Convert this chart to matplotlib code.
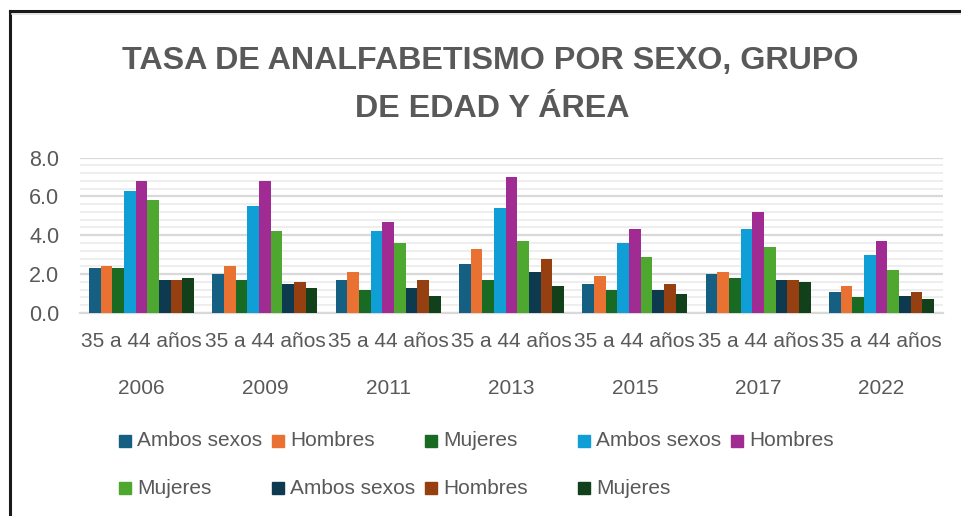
import matplotlib
matplotlib.use("Agg")
import matplotlib.pyplot as plt
import numpy as np
from matplotlib.lines import Line2D
from matplotlib.patches import Rectangle
from matplotlib.ticker import MultipleLocator, FormatStrFormatter

years = ['2006', '2009', '2011', '2013', '2015', '2017', '2022']
age_group = '35 a 44 años'
series_labels = ['Ambos sexos', 'Hombres', 'Mujeres',
                 'Ambos sexos', 'Hombres', 'Mujeres',
                 'Ambos sexos', 'Hombres', 'Mujeres']
ambos_1 = [2.3, 2.0, 1.7, 2.5, 1.5, 2.0, 1.1]
hombres_1 = [2.4, 2.4, 2.1, 3.3, 1.9, 2.1, 1.4]
mujeres_1 = [2.3, 1.7, 1.2, 1.7, 1.2, 1.8, 0.8]
ambos_2 = [6.3, 5.5, 4.2, 5.4, 3.6, 4.3, 3.0]
hombres_2 = [6.8, 6.8, 4.7, 7.0, 4.3, 5.2, 3.7]
mujeres_2 = [5.8, 4.2, 3.6, 3.7, 2.9, 3.4, 2.2]
ambos_3 = [1.7, 1.5, 1.3, 2.1, 1.2, 1.7, 0.9]
hombres_3 = [1.7, 1.6, 1.7, 2.8, 1.5, 1.7, 1.1]
mujeres_3 = [1.8, 1.3, 0.9, 1.4, 1.0, 1.6, 0.7]
series_values = [ambos_1, hombres_1, mujeres_1, ambos_2, hombres_2, mujeres_2,
                 ambos_3, hombres_3, mujeres_3]
colors = ['#156082', '#E97132', '#196B24', '#0F9ED5', '#A02B93', '#4EA72E',
          '#0E3A50', '#963F10', '#11401A']

plt.rcParams['font.family'] = ['Liberation Sans', 'DejaVu Sans']
gray = '#595959'

W, H = 961, 516
fig = plt.figure(figsize=(W / 100, H / 100), dpi=100)
ax_left, ax_right, ax_bottom, ax_top = 80, 943, 313, 157.5
ax = fig.add_axes([ax_left / W, 1 - ax_bottom / H, (ax_right - ax_left) / W, (ax_bottom - ax_top) / H])

x = np.arange(len(years))
n = len(series_values)
bw = 0.0946
for i, (vals, c, lab) in enumerate(zip(series_values, colors, series_labels)):
    ax.bar(x + (i - (n - 1) / 2) * bw, vals, width=bw, color=c, label=lab, zorder=3)

ax.set_xlim(-0.5, len(years) - 0.5)
ax.set_ylim(0, 8)
ax.yaxis.set_major_locator(MultipleLocator(2))
ax.yaxis.set_minor_locator(MultipleLocator(0.4))
ax.yaxis.set_major_formatter(FormatStrFormatter('%.1f'))
ax.grid(axis='y', which='minor', color='#eeeeee', linewidth=1.4, zorder=0)
ax.grid(axis='y', which='major', color='#d9d9d9', linewidth=1.6, zorder=1)
for s in ['top', 'right', 'left']:
    ax.spines[s].set_visible(False)
ax.spines['bottom'].set_color('#d9d9d9')
ax.spines['bottom'].set_linewidth(1.6)
ax.tick_params(axis='y', which='both', length=0, labelsize=15.5, labelcolor=gray, pad=15)
ax.tick_params(axis='x', length=0, labelsize=15, labelcolor=gray, pad=14)
ax.set_xticks(x)
ax.set_xticklabels([age_group] * len(years))
for xi, yr in zip(x, years):
    ax.annotate(yr, xy=(xi, 0), xycoords=('data', 'axes fraction'),
                xytext=(0, -54), textcoords='offset points',
                ha='center', va='center', fontsize=15, color=gray)

# Title
fig.text(490 / W, 1 - 69 / H, 'TASA DE ANALFABETISMO POR SEXO, GRUPO',
         ha='center', va='baseline', fontsize=23.2, fontweight='bold', color=gray)
fig.text(492 / W, 1 - 117 / H, 'DE EDAD Y ÁREA',
         ha='center', va='baseline', fontsize=23.2, fontweight='bold', color=gray)

# Legend (manual grid layout like Excel)
col_x = [119, 272, 425, 578, 731]
row_y = [441, 488]
sq = 12
for i, (lab, c) in enumerate(zip(series_labels, colors)):
    r, cidx = divmod(i, 5)
    px, py = col_x[cidx], row_y[r]
    fig.add_artist(Rectangle((px / W, 1 - (py + sq / 2) / H), sq / W, sq / H,
                             transform=fig.transFigure, color=c))
    fig.text((px + 18) / W, 1 - py / H, lab, ha='left', va='center',
             fontsize=15, color=gray)

# Frame border (partially visible)
fig.add_artist(Line2D([10 / W, 10 / W], [0, 1 - 11 / H], transform=fig.transFigure,
                      color='#1a1a1a', linewidth=2.2))
fig.add_artist(Line2D([10 / W, 1], [1 - 11 / H, 1 - 11 / H], transform=fig.transFigure,
                      color='#1a1a1a', linewidth=2.2))
fig.add_artist(Line2D([12 / W, 1], [1 - 14 / H, 1 - 14 / H], transform=fig.transFigure,
                      color='#e0e0e0', linewidth=1.2))

fig.savefig('out.png', dpi=100)
